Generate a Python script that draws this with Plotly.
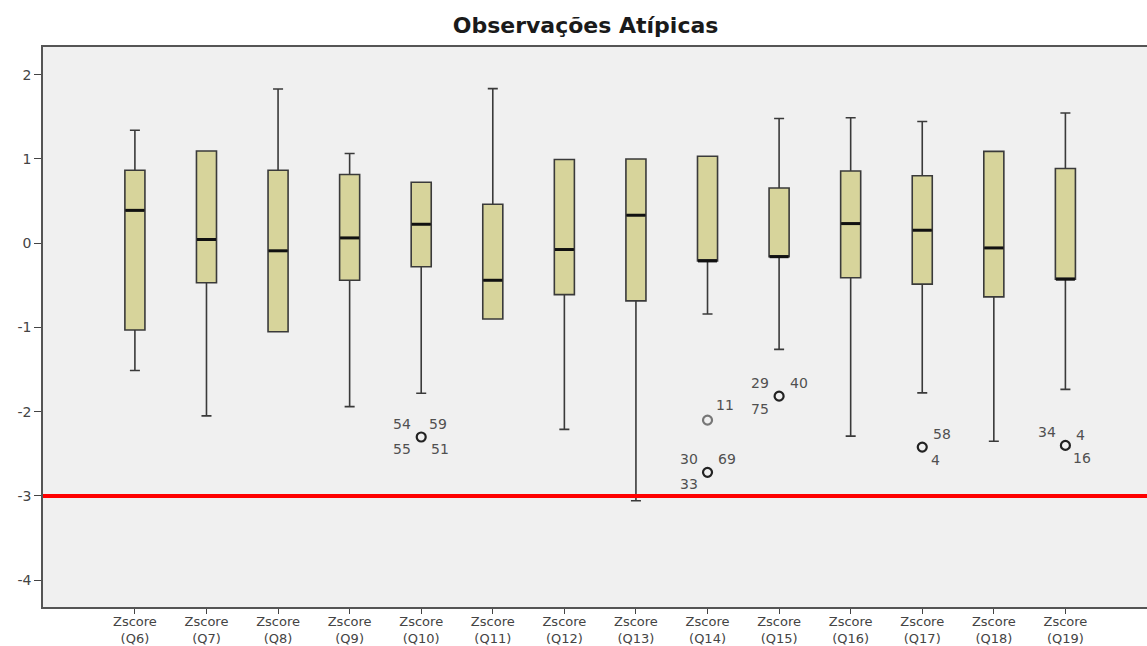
import plotly.graph_objects as go

# ---------------- data ----------------
categories = ["Q6", "Q7", "Q8", "Q9", "Q10", "Q11", "Q12",
              "Q13", "Q14", "Q15", "Q16", "Q17", "Q18", "Q19"]
tick_labels = ["Zscore<br>(" + c + ")" for c in categories]

upper_whisker = [1.34, 1.095, 1.83, 1.064, 0.724, 1.835, 0.993,
                 1.00, 1.032, 1.48, 1.49, 1.444, 1.09, 1.546]
q3 = [0.866, 1.095, 0.866, 0.815, 0.724, 0.463, 0.993,
      1.00, 1.032, 0.656, 0.858, 0.80, 1.09, 0.886]
median = [0.39, 0.044, -0.09, 0.063, 0.225, -0.44, -0.075,
          0.332, -0.21, -0.16, 0.233, 0.154, -0.056, -0.427]
q1 = [-1.03, -0.47, -1.05, -0.44, -0.28, -0.90, -0.61,
      -0.684, -0.21, -0.16, -0.41, -0.486, -0.637, -0.427]
lower_whisker = [-1.51, -2.05, -1.05, -1.94, -1.78, -0.90, -2.21,
                 -3.057, -0.84, -1.26, -2.29, -1.776, -2.35, -1.735]

outlier_cat = ["Q10", "Q14", "Q14", "Q15", "Q17", "Q19"]
outlier_val = [-2.30, -2.10, -2.72, -1.815, -2.42, -2.40]
outlier_ids = [["54", "59", "55", "51"], ["11"], ["30", "69", "33"],
               ["29", "40", "75"], ["58", "4"], ["34", "4", "16"]]

y_tick_vals = [2, 1, 0, -1, -2, -3, -4]
y_tick_text = ["2", "1", "0", "-1", "-2", "-3", "-4"]
THRESHOLD = -3

title_text = "Observações Atípicas"

# ---------------- styles ----------------
label_offsets = [  # pixel offsets (dx, dy) of each case label from its point
    [(-19, -13), (17, -13), (-19, 12), (19, 12)],
    [(17, -15)],
    [(-19, -13), (19, -13), (-19, 12)],
    [(-19, -13), (20, -13), (-19, 13)],
    [(20, -13), (13, 13)],
    [(-18, -13), (15, -10), (17, 13)],
]
BOX_W = 0.28
FONT = "DejaVu Sans, Verdana, sans-serif"

pos = list(range(len(categories)))
cat_pos = {c: i for i, c in enumerate(categories)}

fig = go.Figure()

fig.add_trace(go.Box(
    x=pos, q1=q1, median=median, q3=q3,
    lowerfence=lower_whisker, upperfence=upper_whisker,
    width=BOX_W, whiskerwidth=0.5,
    fillcolor="#d7d49b", line=dict(color="#3a3a3a", width=1.6),
    boxpoints=False, showlegend=False, hoverinfo="skip",
))

# thick median bars
mx, my = [], []
for p, m in zip(pos, median):
    mx += [p - BOX_W / 2 * 0.95, p + BOX_W / 2 * 0.95, None]
    my += [m, m, None]
fig.add_trace(go.Scatter(x=mx, y=my, mode="lines",
                         line=dict(color="#111111", width=3),
                         showlegend=False, hoverinfo="skip"))

# outliers
ox = [cat_pos[c] for c in outlier_cat]
ocol = ["#222222" if len(ids) > 1 else "#777777" for ids in outlier_ids]
fig.add_trace(go.Scatter(
    x=ox, y=outlier_val, mode="markers",
    marker=dict(symbol="circle-open", size=9, color=ocol,
                line=dict(width=2.2, color=ocol)),
    showlegend=False, hoverinfo="skip"))

annotations = []
for x, v, ids, offs in zip(ox, outlier_val, outlier_ids, label_offsets):
    for lab, (dx, dy) in zip(ids, offs):
        annotations.append(dict(
            x=x, y=v, xref="x", yref="y", text=lab, showarrow=False,
            xshift=dx, yshift=-dy,
            font=dict(family=FONT, size=14, color="#505050")))

fig.add_shape(type="line", xref="paper", x0=0, x1=1, yref="y",
              y0=THRESHOLD, y1=THRESHOLD,
              line=dict(color="#ff0000", width=4), layer="above")

fig.update_layout(
    width=1147, height=646,
    margin=dict(l=43, r=0, t=47, b=39),
    paper_bgcolor="white", plot_bgcolor="#f0f0f0",
    title=dict(text="<b>" + title_text + "</b>", xref="container",
               x=0.5105, xanchor="center", yref="container",
               y=1 - 25 / 646, yanchor="middle",
               font=dict(family=FONT, size=22, color="#1a1a1a")),
    annotations=annotations,
    xaxis=dict(range=[-1.284, 14.14], tickvals=pos, ticktext=tick_labels,
               showgrid=False, zeroline=False, showline=True, mirror=True,
               linecolor="#555555", linewidth=1.5, ticks="outside",
               ticklen=5, tickcolor="#444444", automargin=False,
               ticklabelstandoff=-3,
               tickfont=dict(family=FONT, size=13, color="#444444")),
    yaxis=dict(range=[-4.318, 2.329], tickvals=y_tick_vals,
               ticktext=y_tick_text, showgrid=False, zeroline=False,
               showline=True, linecolor="#555555", linewidth=1.5,
               ticks="outside", ticklen=7, tickcolor="#444444",
               automargin=False,
               tickfont=dict(family=FONT, size=14, color="#444444")),
)

fig.write_html(
    "out.html",
    config={"displayModeBar": False},
    post_script="document.body.style.margin='0';"
                "document.documentElement.style.overflow='hidden';",
)
